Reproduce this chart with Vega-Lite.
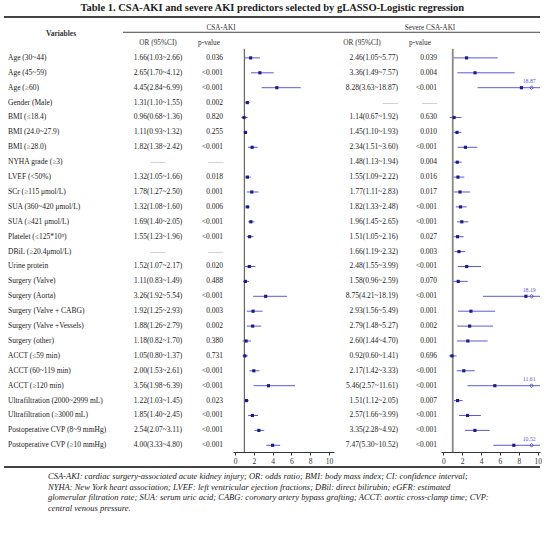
{
  "$schema": "https://vega.github.io/schema/vega-lite/v6.json",
  "background": "white",
  "padding": {"left": 3, "top": 2, "right": 0, "bottom": 0},
  "bounds": "flush",
  "title": {"text": "Table 1. CSA-AKI and severe AKI predictors selected by gLASSO-Logistic regression", "font": "Liberation Serif", "fontSize": 10.5, "fontWeight": "bold", "color": "#222", "anchor": "middle", "offset": 3},
  "config": {"view": {"stroke": null}, "concat": {"spacing": 0}, "text": {"font": "Liberation Serif", "fontSize": 7.5, "color": "#222", "baseline": "middle"}, "axis": {"labelFont": "Liberation Serif", "labelOverlap": false, "labelFlush": false, "labelFontSize": 7.5, "labelColor": "#333", "domainColor": "#333", "tickColor": "#333", "tickSize": 3, "labelPadding": 2, "grid": false, "title": null}},
  "datasets": {
    "one": [{}],
    "rows": [
      {"i": 0, "v": "Age (30~44)", "ci1": "1.66(1.03~2.66)", "p1": "0.036", "or1": 1.66, "lo1": 1.03, "hi1": 2.66, "ci2": "2.46(1.05~5.77)", "p2": "0.039", "or2": 2.46, "lo2": 1.05, "hi2": 5.77},
      {"i": 1, "v": "Age (45~59)", "ci1": "2.65(1.70~4.12)", "p1": "<0.001", "or1": 2.65, "lo1": 1.70, "hi1": 4.12, "ci2": "3.36(1.49~7.57)", "p2": "0.004", "or2": 3.36, "lo2": 1.49, "hi2": 7.57},
      {"i": 2, "v": "Age (≥60)", "ci1": "4.45(2.84~6.99)", "p1": "<0.001", "or1": 4.45, "lo1": 2.84, "hi1": 6.99, "ci2": "8.28(3.63~18.87)", "p2": "<0.001", "or2": 8.28, "lo2": 3.63, "hi2": 18.87},
      {"i": 3, "v": "Gender (Male)", "ci1": "1.31(1.10~1.55)", "p1": "0.002", "or1": 1.31, "lo1": 1.10, "hi1": 1.55, "ci2": "——", "p2": "——", "or2": null, "lo2": null, "hi2": null},
      {"i": 4, "v": "BMI (≤18.4)", "ci1": "0.96(0.68~1.36)", "p1": "0.820", "or1": 0.96, "lo1": 0.68, "hi1": 1.36, "ci2": "1.14(0.67~1.92)", "p2": "0.630", "or2": 1.14, "lo2": 0.67, "hi2": 1.92},
      {"i": 5, "v": "BMI (24.0~27.9)", "ci1": "1.11(0.93~1.32)", "p1": "0.255", "or1": 1.11, "lo1": 0.93, "hi1": 1.32, "ci2": "1.45(1.10~1.93)", "p2": "0.010", "or2": 1.45, "lo2": 1.10, "hi2": 1.93},
      {"i": 6, "v": "BMI (≥28.0)", "ci1": "1.82(1.38~2.42)", "p1": "<0.001", "or1": 1.82, "lo1": 1.38, "hi1": 2.42, "ci2": "2.34(1.51~3.60)", "p2": "<0.001", "or2": 2.34, "lo2": 1.51, "hi2": 3.60},
      {"i": 7, "v": "NYHA grade (≥3)", "ci1": "——", "p1": "——", "or1": null, "lo1": null, "hi1": null, "ci2": "1.48(1.13~1.94)", "p2": "0.004", "or2": 1.48, "lo2": 1.13, "hi2": 1.94},
      {"i": 8, "v": "LVEF (<50%)", "ci1": "1.32(1.05~1.66)", "p1": "0.018", "or1": 1.32, "lo1": 1.05, "hi1": 1.66, "ci2": "1.55(1.09~2.22)", "p2": "0.016", "or2": 1.55, "lo2": 1.09, "hi2": 2.22},
      {"i": 9, "v": "SCr (≥115 μmol/L)", "ci1": "1.78(1.27~2.50)", "p1": "0.001", "or1": 1.78, "lo1": 1.27, "hi1": 2.50, "ci2": "1.77(1.11~2.83)", "p2": "0.017", "or2": 1.77, "lo2": 1.11, "hi2": 2.83},
      {"i": 10, "v": "SUA (360~420 μmol/L)", "ci1": "1.32(1.08~1.60)", "p1": "0.006", "or1": 1.32, "lo1": 1.08, "hi1": 1.60, "ci2": "1.82(1.33~2.48)", "p2": "<0.001", "or2": 1.82, "lo2": 1.33, "hi2": 2.48},
      {"i": 11, "v": "SUA (≥421 μmol/L)", "ci1": "1.69(1.40~2.05)", "p1": "<0.001", "or1": 1.69, "lo1": 1.40, "hi1": 2.05, "ci2": "1.96(1.45~2.65)", "p2": "<0.001", "or2": 1.96, "lo2": 1.45, "hi2": 2.65},
      {"i": 12, "v": "Platelet (≤125*10⁹)", "ci1": "1.55(1.23~1.96)", "p1": "<0.001", "or1": 1.55, "lo1": 1.23, "hi1": 1.96, "ci2": "1.51(1.05~2.16)", "p2": "0.027", "or2": 1.51, "lo2": 1.05, "hi2": 2.16},
      {"i": 13, "v": "DBiL (≥20.4μmol/L)", "ci1": "——", "p1": "——", "or1": null, "lo1": null, "hi1": null, "ci2": "1.66(1.19~2.32)", "p2": "0.003", "or2": 1.66, "lo2": 1.19, "hi2": 2.32},
      {"i": 14, "v": "Urine protein", "ci1": "1.52(1.07~2.17)", "p1": "0.020", "or1": 1.52, "lo1": 1.07, "hi1": 2.17, "ci2": "2.48(1.55~3.99)", "p2": "<0.001", "or2": 2.48, "lo2": 1.55, "hi2": 3.99},
      {"i": 15, "v": "Surgery (Valve)", "ci1": "1.11(0.83~1.49)", "p1": "0.488", "or1": 1.11, "lo1": 0.83, "hi1": 1.49, "ci2": "1.58(0.96~2.59)", "p2": "0.070", "or2": 1.58, "lo2": 0.96, "hi2": 2.59},
      {"i": 16, "v": "Surgery (Aorta)", "ci1": "3.26(1.92~5.54)", "p1": "<0.001", "or1": 3.26, "lo1": 1.92, "hi1": 5.54, "ci2": "8.75(4.21~18.19)", "p2": "<0.001", "or2": 8.75, "lo2": 4.21, "hi2": 18.19},
      {"i": 17, "v": "Surgery (Valve + CABG)", "ci1": "1.92(1.25~2.93)", "p1": "0.003", "or1": 1.92, "lo1": 1.25, "hi1": 2.93, "ci2": "2.93(1.56~5.49)", "p2": "0.001", "or2": 2.93, "lo2": 1.56, "hi2": 5.49},
      {"i": 18, "v": "Surgery (Valve +Vessels)", "ci1": "1.88(1.26~2.79)", "p1": "0.002", "or1": 1.88, "lo1": 1.26, "hi1": 2.79, "ci2": "2.79(1.48~5.27)", "p2": "0.002", "or2": 2.79, "lo2": 1.48, "hi2": 5.27},
      {"i": 19, "v": "Surgery (other)", "ci1": "1.18(0.82~1.70)", "p1": "0.380", "or1": 1.18, "lo1": 0.82, "hi1": 1.70, "ci2": "2.60(1.44~4.70)", "p2": "0.001", "or2": 2.60, "lo2": 1.44, "hi2": 4.70},
      {"i": 20, "v": "ACCT (≤59 min)", "ci1": "1.05(0.80~1.37)", "p1": "0.731", "or1": 1.05, "lo1": 0.80, "hi1": 1.37, "ci2": "0.92(0.60~1.41)", "p2": "0.696", "or2": 0.92, "lo2": 0.60, "hi2": 1.41},
      {"i": 21, "v": "ACCT (60~119 min)", "ci1": "2.00(1.53~2.61)", "p1": "<0.001", "or1": 2.00, "lo1": 1.53, "hi1": 2.61, "ci2": "2.17(1.42~3.33)", "p2": "<0.001", "or2": 2.17, "lo2": 1.42, "hi2": 3.33},
      {"i": 22, "v": "ACCT (≥120 min)", "ci1": "3.56(1.98~6.39)", "p1": "<0.001", "or1": 3.56, "lo1": 1.98, "hi1": 6.39, "ci2": "5.46(2.57~11.61)", "p2": "<0.001", "or2": 5.46, "lo2": 2.57, "hi2": 11.61},
      {"i": 23, "v": "Ultrafiltration (2000~2999 mL)", "ci1": "1.22(1.03~1.45)", "p1": "0.023", "or1": 1.22, "lo1": 1.03, "hi1": 1.45, "ci2": "1.51(1.12~2.05)", "p2": "0.007", "or2": 1.51, "lo2": 1.12, "hi2": 2.05},
      {"i": 24, "v": "Ultrafiltration (≥3000 mL)", "ci1": "1.85(1.40~2.45)", "p1": "<0.001", "or1": 1.85, "lo1": 1.40, "hi1": 2.45, "ci2": "2.57(1.66~3.99)", "p2": "<0.001", "or2": 2.57, "lo2": 1.66, "hi2": 3.99},
      {"i": 25, "v": "Postoperative CVP (8~9 mmHg)", "ci1": "2.54(2.07~3.11)", "p1": "<0.001", "or1": 2.54, "lo1": 2.07, "hi1": 3.11, "ci2": "3.35(2.28~4.92)", "p2": "<0.001", "or2": 3.35, "lo2": 2.28, "hi2": 4.92},
      {"i": 26, "v": "Postoperative CVP (≥10 mmHg)", "ci1": "4.00(3.33~4.80)", "p1": "<0.001", "or1": 4.00, "lo1": 3.33, "hi1": 4.80, "ci2": "7.47(5.30~10.52)", "p2": "<0.001", "or2": 7.47, "lo2": 5.30, "hi2": 10.52}
    ]
  },
  "vconcat": [
    {
      "title": {"text": ["CSA-AKI: cardiac surgery-associated acute kidney injury; OR: odds ratio; BMI: body mass index; CI: confidence interval;", "NYHA: New York heart association; LVEF: left ventricular ejection fractions; DBil: direct bilirubin; eGFR: estimated", "glomerular filtration rate; SUA: serum uric acid; CABG: coronary artery bypass grafting; ACCT: aortic cross-clamp time; CVP:", "central venous pressure."], "orient": "bottom", "anchor": "start", "dx": 45, "offset": 4, "font": "Liberation Serif", "fontSize": 8.5, "fontStyle": "italic", "fontWeight": "normal", "color": "#222", "lineHeight": 10.8, "baseline": "top"},
      "spacing": 0,
      "bounds": "flush",
      "hconcat": [
        {
          "width": 119, "height": 435,
          "layer": [
            {"data": {"name": "one"}, "mark": {"type": "rule", "color": "#444", "strokeWidth": 2}, "encoding": {"y": {"datum": -2.745, "type": "quantitative", "scale": {"domain": [-2.745, 26.45], "reverse": true, "nice": false, "zero": false}, "axis": null}}},
            {"data": {"name": "one"}, "mark": {"type": "rule", "color": "#444", "strokeWidth": 2}, "encoding": {"y": {"datum": 27.45, "type": "quantitative"}}},
            {"data": {"name": "one"}, "mark": {"type": "text", "text": "Variables", "fontWeight": "bold", "fontSize": 7.5, "color": "#333", "dx": -2.5}, "encoding": {"y": {"datum": -1.63, "type": "quantitative"}}},
            {"data": {"name": "rows"}, "mark": {"type": "text", "align": "left", "dx": 4}, "encoding": {"y": {"field": "i", "type": "quantitative"}, "x": {"datum": 0, "type": "quantitative", "scale": {"domain": [0, 1]}, "axis": null}, "text": {"field": "v"}}}
          ]
        },
        {
          "width": 70, "height": 435,
          "layer": [
            {"data": {"name": "one"}, "mark": {"type": "rule", "color": "#444", "strokeWidth": 2}, "encoding": {"y": {"datum": -2.745, "type": "quantitative", "scale": {"domain": [-2.745, 26.45], "reverse": true, "nice": false, "zero": false}, "axis": null}}},
            {"data": {"name": "one"}, "mark": {"type": "rule", "color": "#444", "strokeWidth": 2}, "encoding": {"y": {"datum": 27.45, "type": "quantitative"}}},
            {"data": {"name": "one"}, "mark": {"type": "rule", "color": "#444", "strokeWidth": 1}, "encoding": {"y": {"datum": -1.72, "type": "quantitative"}}},
            {"data": {"name": "one"}, "mark": {"type": "text", "text": "OR (95%CI)", "fontSize": 7.3, "color": "#333"}, "encoding": {"y": {"datum": -1.03, "type": "quantitative"}}},
            {"data": {"name": "rows"}, "mark": {"type": "text"}, "encoding": {"y": {"field": "i", "type": "quantitative"}, "text": {"field": "ci1"}, "color": {"condition": {"test": "datum.or1 == null", "value": "#999"}, "value": "#222"}}}
          ]
        },
        {
          "width": 40, "height": 435,
          "layer": [
            {"data": {"name": "one"}, "mark": {"type": "rule", "color": "#444", "strokeWidth": 2}, "encoding": {"y": {"datum": -2.745, "type": "quantitative", "scale": {"domain": [-2.745, 26.45], "reverse": true, "nice": false, "zero": false}, "axis": null}}},
            {"data": {"name": "one"}, "mark": {"type": "rule", "color": "#444", "strokeWidth": 2}, "encoding": {"y": {"datum": 27.45, "type": "quantitative"}}},
            {"data": {"name": "one"}, "mark": {"type": "rule", "color": "#444", "strokeWidth": 1}, "encoding": {"y": {"datum": -1.72, "type": "quantitative"}}},
            {"data": {"name": "one"}, "mark": {"type": "text", "text": "CSA-AKI", "fontSize": 7.2, "color": "#333", "dx": 8}, "encoding": {"y": {"datum": -2.03, "type": "quantitative"}}},
            {"data": {"name": "one"}, "mark": {"type": "text", "text": "p-value", "fontSize": 7.3, "color": "#333", "dx": -4}, "encoding": {"y": {"datum": -1.03, "type": "quantitative"}}},
            {"data": {"name": "rows"}, "mark": {"type": "text", "align": "right", "dx": 10}, "encoding": {"y": {"field": "i", "type": "quantitative"}, "text": {"field": "p1"}, "color": {"condition": {"test": "datum.or1 == null", "value": "#999"}, "value": "#222"}}}
          ]
        },
        {
          "width": 101, "height": 435,
          "layer": [
            {"data": {"name": "one"}, "mark": {"type": "rule", "color": "#444", "strokeWidth": 2}, "encoding": {"y": {"datum": -2.745, "type": "quantitative", "scale": {"domain": [-2.745, 26.45], "reverse": true, "nice": false, "zero": false}, "axis": null}}},
            {"data": {"name": "one"}, "mark": {"type": "rule", "color": "#444", "strokeWidth": 2}, "encoding": {"y": {"datum": 27.45, "type": "quantitative"}}},
            {"data": {"name": "one"}, "mark": {"type": "rule", "color": "#444", "strokeWidth": 1}, "encoding": {"y": {"datum": -1.72, "type": "quantitative"}}},
            {"data": {"name": "rows"}, "mark": {"type": "rule", "color": "#5a5ad8", "strokeWidth": 1}, "encoding": {"y": {"field": "i", "type": "quantitative"}, "x": {"field": "lo1", "type": "quantitative", "scale": {"domain": [-0.213, 10.53], "nice": false, "zero": false}, "axis": {"values": [0, 2, 4, 6, 8, 10], "labelOverlap": false}}, "x2": {"field": "hi1"}}},
            {"data": {"name": "one"}, "mark": {"type": "rule", "color": "#666", "strokeWidth": 1.2}, "encoding": {"x": {"datum": 1, "type": "quantitative", "axis": {"values": [0, 2, 4, 6, 8, 10], "labelOverlap": false}}, "y": {"datum": -0.62, "type": "quantitative"}, "y2": {"datum": 26.45}}},
            {"data": {"name": "rows"}, "mark": {"type": "point", "shape": "square", "filled": true, "size": 10, "color": "#1c1c85", "opacity": 1}, "encoding": {"y": {"field": "i", "type": "quantitative"}, "x": {"field": "or1", "type": "quantitative", "axis": {"values": [0, 2, 4, 6, 8, 10], "labelOverlap": false}}}}
          ]
        },
        {
          "width": 72, "height": 435,
          "layer": [
            {"data": {"name": "one"}, "mark": {"type": "rule", "color": "#444", "strokeWidth": 2}, "encoding": {"y": {"datum": -2.745, "type": "quantitative", "scale": {"domain": [-2.745, 26.45], "reverse": true, "nice": false, "zero": false}, "axis": null}}},
            {"data": {"name": "one"}, "mark": {"type": "rule", "color": "#444", "strokeWidth": 2}, "encoding": {"y": {"datum": 27.45, "type": "quantitative"}}},
            {"data": {"name": "one"}, "mark": {"type": "rule", "color": "#444", "strokeWidth": 1}, "encoding": {"y": {"datum": -1.72, "type": "quantitative"}}},
            {"data": {"name": "one"}, "mark": {"type": "text", "text": "OR (95%CI)", "fontSize": 7.3, "color": "#333", "dx": -8}, "encoding": {"y": {"datum": -1.03, "type": "quantitative"}}},
            {"data": {"name": "rows"}, "mark": {"type": "text", "align": "right", "dx": 28}, "encoding": {"y": {"field": "i", "type": "quantitative"}, "text": {"field": "ci2"}, "color": {"condition": {"test": "datum.or2 == null", "value": "#999"}, "value": "#222"}}}
          ]
        },
        {
          "width": 35, "height": 435,
          "layer": [
            {"data": {"name": "one"}, "mark": {"type": "rule", "color": "#444", "strokeWidth": 2}, "encoding": {"y": {"datum": -2.745, "type": "quantitative", "scale": {"domain": [-2.745, 26.45], "reverse": true, "nice": false, "zero": false}, "axis": null}}},
            {"data": {"name": "one"}, "mark": {"type": "rule", "color": "#444", "strokeWidth": 2}, "encoding": {"y": {"datum": 27.45, "type": "quantitative"}}},
            {"data": {"name": "one"}, "mark": {"type": "rule", "color": "#444", "strokeWidth": 1}, "encoding": {"y": {"datum": -1.72, "type": "quantitative"}}},
            {"data": {"name": "one"}, "mark": {"type": "text", "text": "Severe CSA-AKI", "fontSize": 7.2, "color": "#333", "dx": 6.5}, "encoding": {"y": {"datum": -2.03, "type": "quantitative"}}},
            {"data": {"name": "one"}, "mark": {"type": "text", "text": "p-value", "fontSize": 7.3, "color": "#333", "dx": -3.5}, "encoding": {"y": {"datum": -1.03, "type": "quantitative"}}},
            {"data": {"name": "rows"}, "mark": {"type": "text", "align": "right", "dx": 13.5}, "encoding": {"y": {"field": "i", "type": "quantitative"}, "text": {"field": "p2"}, "color": {"condition": {"test": "datum.or2 == null", "value": "#999"}, "value": "#222"}}}
          ]
        },
        {
          "width": 99, "height": 435,
          "layer": [
            {"data": {"name": "one"}, "mark": {"type": "rule", "color": "#444", "strokeWidth": 2}, "encoding": {"y": {"datum": -2.745, "type": "quantitative", "scale": {"domain": [-2.745, 26.45], "reverse": true, "nice": false, "zero": false}, "axis": null}}},
            {"data": {"name": "one"}, "mark": {"type": "rule", "color": "#444", "strokeWidth": 2}, "encoding": {"y": {"datum": 27.45, "type": "quantitative"}}},
            {"data": {"name": "one"}, "mark": {"type": "rule", "color": "#444", "strokeWidth": 1}, "encoding": {"y": {"datum": -1.72, "type": "quantitative"}}},
            {"data": {"name": "rows"}, "mark": {"type": "rule", "color": "#5a5ad8", "strokeWidth": 1}, "encoding": {"y": {"field": "i", "type": "quantitative"}, "x": {"field": "lo2", "type": "quantitative", "scale": {"domain": [-0.244, 10.244], "nice": false, "zero": false, "clamp": true}, "axis": {"values": [0, 2, 4, 6, 8, 10], "labelOverlap": false}}, "x2": {"field": "hi2"}}},
            {"data": {"name": "one"}, "mark": {"type": "rule", "color": "#888", "strokeWidth": 1.8}, "encoding": {"x": {"datum": 1, "type": "quantitative", "axis": {"values": [0, 2, 4, 6, 8, 10], "labelOverlap": false}}, "y": {"datum": -0.62, "type": "quantitative"}, "y2": {"datum": 26.45}}},
            {"data": {"name": "rows"}, "mark": {"type": "point", "shape": "square", "filled": true, "size": 10, "color": "#1c1c85", "opacity": 1}, "encoding": {"y": {"field": "i", "type": "quantitative"}, "x": {"field": "or2", "type": "quantitative", "axis": {"values": [0, 2, 4, 6, 8, 10], "labelOverlap": false}}}},
            {"data": {"name": "rows"}, "transform": [{"filter": "datum.hi2 > 10"}], "mark": {"type": "point", "shape": "diamond", "filled": false, "size": 14, "color": "#5a5ad8", "strokeWidth": 1, "opacity": 1}, "encoding": {"y": {"field": "i", "type": "quantitative"}, "x": {"datum": 9.35, "type": "quantitative", "axis": {"values": [0, 2, 4, 6, 8, 10], "labelOverlap": false}}}},
            {"data": {"name": "rows"}, "transform": [{"filter": "datum.hi2 > 10"}], "mark": {"type": "text", "fontSize": 5.8, "color": "#5a5ad8", "dy": -6.5}, "encoding": {"y": {"field": "i", "type": "quantitative"}, "x": {"datum": 9.1, "type": "quantitative", "axis": {"values": [0, 2, 4, 6, 8, 10], "labelOverlap": false}}, "text": {"field": "hi2", "format": ".2f"}}}
          ]
        }
      ]
    }
  ]
}
